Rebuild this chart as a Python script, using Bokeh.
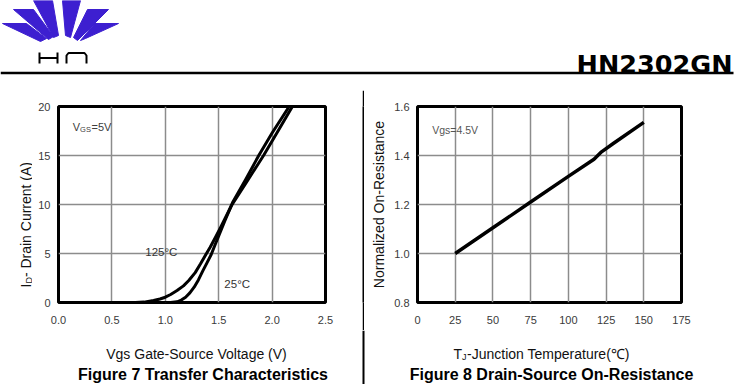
import math
from bokeh.plotting import figure
from bokeh.models import Range1d, Label, FixedTicker, NumeralTickFormatter
from bokeh.core.properties import value
from bokeh.layouts import column, row
from bokeh.embed import file_html
from bokeh.resources import INLINE

# ---------------- data ----------------
# Figure 7: Transfer characteristics (VGS=5V)
vgs_25 = [0.0, 0.95, 1.05, 1.11, 1.15, 1.19, 1.23, 1.27, 1.31, 1.35, 1.39, 1.43,
          1.47, 1.5, 1.56, 1.63, 1.75, 1.875, 2.0, 2.16]
id_25 = [0.0, 0.0, 0.0, 0.07, 0.25, 0.54, 0.98, 1.56, 2.3, 3.2, 4.05, 4.9,
         6.0, 6.8, 8.4, 10.2, 12.5, 15.0, 17.3, 20.0]
vgs_125 = [0.0, 0.72, 0.8, 0.89, 0.95, 1.0, 1.05, 1.11, 1.17, 1.22, 1.28, 1.33,
           1.38, 1.42, 1.47, 1.52, 1.57, 1.62, 1.75, 1.92, 2.05, 2.19]
id_125 = [0.0, 0.0, 0.04, 0.2, 0.36, 0.54, 0.82, 1.22, 1.7, 2.24, 3.05, 3.95,
          4.9, 5.64, 6.65, 7.7, 8.8, 9.9, 12.1, 15.0, 17.4, 20.0]
fig7_xticks = [0.0, 0.5, 1.0, 1.5, 2.0, 2.5]
fig7_yticks = [0, 5, 10, 15, 20]

# Figure 8: Normalized on-resistance vs junction temperature (Vgs=4.5V)
tj = [25, 50, 75, 100, 117, 122, 130, 150]
rdson_norm = [1.0, 1.105, 1.21, 1.315, 1.385, 1.415, 1.45, 1.535]
fig8_xticks = [0, 25, 50, 75, 100, 125, 150, 175]
fig8_yticks = [0.8, 1.0, 1.2, 1.4, 1.6]

FONT = "Liberation Sans"
PURPLE = "#3d1fd0"
ROT = math.pi / 2


def lab(p, x, y, text, size="14px", color="#111111", align="left", angle=0.0):
    p.add_layout(Label(x=x, y=y, x_units="screen", y_units="screen", text=text,
                       text_font=FONT, text_font_size=size, text_color=color,
                       text_align=align, text_baseline="alphabetic", angle=angle))


def txt(p, x, y, text, size="14px", bold=False, color="#111111", align="left",
        font=FONT):
    p.text(x=[x], y=[y], text=[text], text_font=value(font), text_font_size=size,
           text_font_style="bold" if bold else "normal", text_color=color,
           text_align=align, text_baseline="alphabetic")


def blank(w, h):
    f = figure(width=w, height=h, output_backend="svg", toolbar_location=None,
               x_range=Range1d(0, w), y_range=Range1d(h, 0),
               x_axis_type=None, y_axis_type=None, min_border=0)
    f.outline_line_color = None
    f.grid.visible = False
    return f


def style(p, xticks, yticks, xfmt, yfmt):
    p.xaxis.ticker = FixedTicker(ticks=xticks)
    p.yaxis.ticker = FixedTicker(ticks=yticks)
    p.xaxis.formatter = NumeralTickFormatter(format=xfmt)
    p.yaxis.formatter = NumeralTickFormatter(format=yfmt)
    for ax in p.axis:
        ax.axis_line_color = None
        ax.major_tick_line_color = None
        ax.minor_tick_line_color = None
        ax.major_tick_in = 0
        ax.major_tick_out = 0
        ax.minor_tick_in = 0
        ax.minor_tick_out = 0
        ax.major_label_text_font = FONT
        ax.major_label_text_font_size = "11px"
        ax.major_label_text_color = "#3a3a3a"
        ax.axis_label_text_font = FONT
        ax.axis_label_text_font_size = "14px"
        ax.axis_label_text_font_style = "normal"
        ax.axis_label_text_color = "#111111"
    p.xaxis.major_label_standoff = 13
    p.yaxis.major_label_standoff = 8
    p.grid.grid_line_color = "#8c8c8c"
    p.grid.grid_line_width = 1.5
    p.outline_line_color = "black"
    p.outline_line_width = 3


# ---------------- header ----------------
hdr = blank(738, 90)
blades = [
    [(2, 23), (26, 23), (46, 38), (40, 41)],
    [(13, 9), (33, 9), (53, 36), (48, 39)],
    [(33, 0), (52, 0), (58, 35), (53, 37)],
    [(62, 0), (80, 0), (70, 37), (65, 35)],
    [(87, 9), (108, 9), (77, 40), (73, 37)],
    [(94, 23), (118, 23), (85, 38), (80, 40)],
]
hdr.patches([[px for px, py in b] for b in blades],
            [[py for px, py in b] for b in blades],
            fill_color=PURPLE, line_color=PURPLE, line_width=1)
hdr.multi_line([[39, 39], [39, 57], [57, 57]],
               [[52, 63], [57.5, 57.5], [52, 63]],
               line_color="black", line_width=2)
hdr.line([66, 66, 68, 84, 86, 86], [63, 55, 52.5, 52.5, 55, 63],
         line_color="black", line_width=2)
txt(hdr, 732, 63, "HN2302GN", size="25.5px", bold=True, color="black",
    align="right", font="DejaVu Sans")
hdr.line([0, 733], [72.5, 72.5], line_color="black", line_width=2.5)

# ---------------- Figure 7 ----------------
# y-axis title strip (same borders as the chart so frames line up)
ylab7 = figure(width=32, height=240, output_backend="svg", toolbar_location=None,
               x_range=Range1d(0, 32), y_range=Range1d(0, 196),
               x_axis_type=None, y_axis_type=None, min_border_left=0,
               min_border_right=0, min_border_top=16, min_border_bottom=28)
ylab7.outline_line_color = None
ylab7.grid.visible = False
lab(ylab7, 25.5, 15.0, "I", size="14px", angle=ROT)
lab(ylab7, 28.5, 18.9, "D", size="9px", angle=ROT)
lab(ylab7, 25.5, 25.4, "- Drain Current (A)", size="14px", angle=ROT)

p7 = figure(width=330, height=240, output_backend="svg", toolbar_location=None,
            x_range=Range1d(0, 2.5), y_range=Range1d(0, 20),
            min_border_left=26, min_border_right=37, min_border_top=16,
            min_border_bottom=28)
style(p7, fig7_xticks, fig7_yticks, "0.0", "0")
p7.line(vgs_125, id_125, line_color="black", line_width=3, line_join="round")
p7.line(vgs_25, id_25, line_color="black", line_width=3, line_join="round")
lab(p7, 14.3, 175.3, "V", size="11px", color="#404040")
lab(p7, 21.6, 173.3, "GS", size="7.5px", color="#404040")
lab(p7, 33.0, 175.3, "=5V", size="11px", color="#404040")
lab(p7, 102.8, 50.3, "125°C", size="11.5px", color="#333333", align="center")
lab(p7, 178.7, 18.7, "25°C", size="11.5px", color="#333333", align="center")

# ---------------- divider ----------------
div = figure(width=2, height=240, output_backend="svg", toolbar_location=None,
             x_axis_type=None, y_axis_type=None, min_border=0,
             min_border_top=16, min_border_bottom=28,
             background_fill_color="black", border_fill_color="black")
div.outline_line_color = None
div.grid.visible = False

# ---------------- Figure 8 ----------------
p8 = figure(width=374, height=240, output_backend="svg", toolbar_location=None,
            x_range=Range1d(0, 175), y_range=Range1d(0.8, 1.6),
            min_border_left=53, min_border_right=57, min_border_top=16,
            min_border_bottom=28)
style(p8, fig8_xticks, fig8_yticks, "0", "0.0")
p8.yaxis.axis_label = "Normalized On-Resistance"
p8.yaxis.axis_label_standoff = 4
p8.line(tj, rdson_norm, line_color="black", line_width=3.5, line_join="round")
lab(p8, 14.7, 172.7, "Vgs=4.5V", size="10.5px", color="#555555")

# ---------------- captions (x titles and figure titles) ----------------
cap = blank(738, 54)
cap.line([363, 363], [0, 54], line_color="black", line_width=2)
txt(cap, 196, 23, "Vgs Gate-Source Voltage (V)", size="14px", align="center")
txt(cap, 202.5, 44, "Figure 7 Transfer Characteristics", size="16px",
    bold=True, color="black", align="center")
txt(cap, 453, 23, "T", size="14px")
txt(cap, 461.6, 26, "J", size="9px")
txt(cap, 466.6, 23, "-Junction Temperature(℃)", size="14px")
txt(cap, 551, 44, "Figure 8 Drain-Source On-Resistance", size="16px",
    bold=True, color="black", align="center")

layout = column(hdr, row(ylab7, p7, div, p8), cap)
open("out.html", "w").write(file_html(layout, INLINE))
